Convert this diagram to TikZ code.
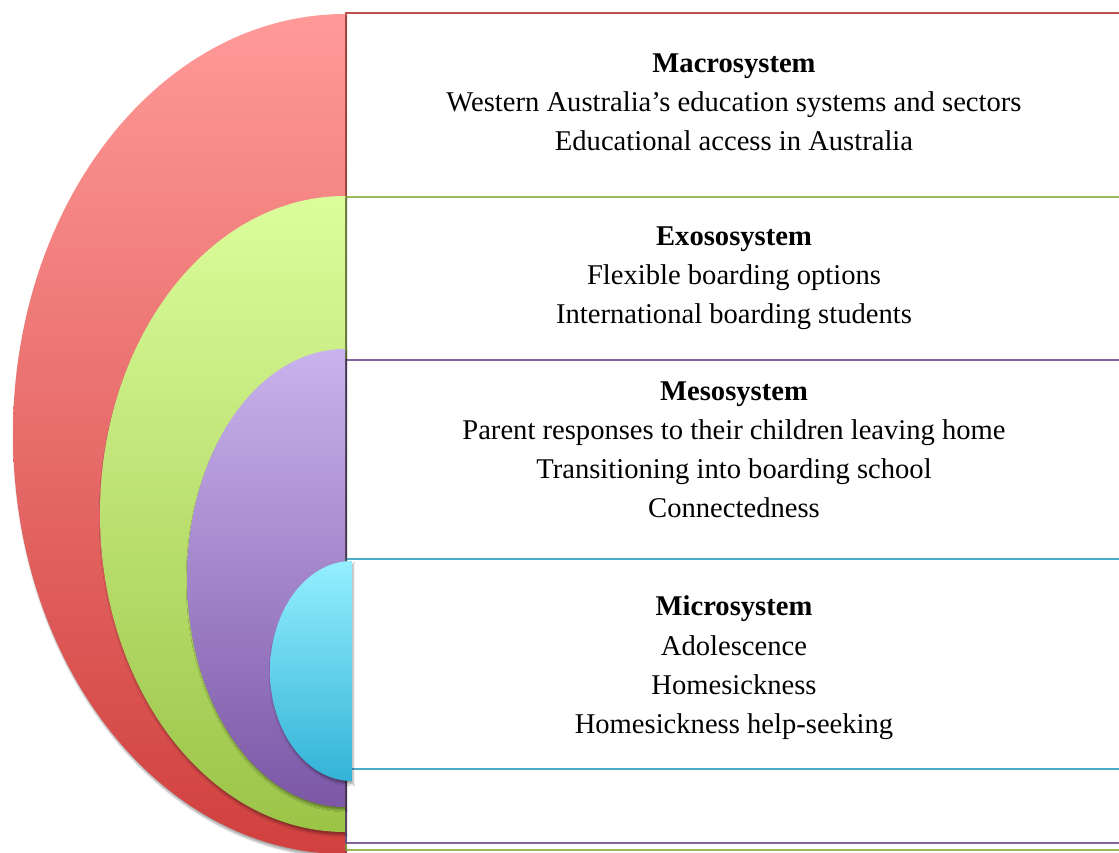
\documentclass[tikz,border=0pt]{standalone}
\usepackage{fontspec}
\setmainfont{Liberation Serif}
\usetikzlibrary{shadows.blur}
\definecolor{redL}{HTML}{C0504D}
\definecolor{greenL}{HTML}{9BBB59}
\definecolor{purpleL}{HTML}{8064A2}
\definecolor{cyanL}{HTML}{4BACC6}
\definecolor{redT}{HTML}{FF9A98}
\definecolor{redB}{HTML}{D0403E}
\definecolor{greenT}{HTML}{DCFD9C}
\definecolor{greenB}{HTML}{9BC447}
\definecolor{purpleT}{HTML}{C9B3ED}
\definecolor{purpleB}{HTML}{7B57A6}
\definecolor{cyanT}{HTML}{94EFFF}
\definecolor{cyanB}{HTML}{33B3D6}
\begin{document}
\begin{tikzpicture}[x=1pt,y=-1pt,
  lbl/.style={anchor=base, inner sep=0pt, font=\fontsize{28.6}{34}\selectfont},
  ttl/.style={anchor=base, inner sep=0pt, font=\fontsize{28.6}{34}\selectfont\bfseries},
  sysbox/.style={line width=1.5pt, fill=white},
  half/.style={blur shadow={shadow xshift=1pt, shadow yshift=-3pt, shadow blur steps=6, shadow opacity=35}}]
\useasboundingbox (0,0) rectangle (1119,853);
% boxes
\draw[sysbox, draw=redL] (346,13) rectangle (1130,870);
\draw[sysbox, draw=greenL] (346,197) rectangle (1130,850);
\draw[sysbox, draw=purpleL] (346,360) rectangle (1130,843);
\draw[sysbox, draw=cyanL] (346,559) rectangle (1130,769);
% half ellipses
\path[half, top color=redT, bottom color=redB] (345,14) arc[start angle=270, end angle=90, x radius=332, y radius=420] -- cycle;
\path[half, top color=greenT, bottom color=greenB] (345,196) arc[start angle=270, end angle=90, x radius=245, y radius=318] -- cycle;
\path[half, top color=purpleT, bottom color=purpleB] (345,349) arc[start angle=270, end angle=90, x radius=158, y radius=229] -- cycle;
\path[half, top color=cyanT, bottom color=cyanB] (352,561) arc[start angle=270, end angle=90, x radius=82, y radius=110] -- cycle;
% texts
\node[ttl] (mac0) at (734,73) {Macrosystem};
\node[lbl] (mac1) at (734,112) {Western Australia’s education systems and sectors};
\node[lbl] (mac2) at (734,151) {Educational access in Australia};
\node[ttl] (exo0) at (734,246) {Exososystem};
\node[lbl] (exo1) at (734,284) {Flexible boarding options};
\node[lbl] (exo2) at (734,323) {International boarding students};
\node[ttl] (mes0) at (734,400) {Mesosystem};
\node[lbl] (mes1) at (734,439) {Parent responses to their children leaving home};
\node[lbl] (mes2) at (734,478) {Transitioning into boarding school};
\node[lbl] (mes3) at (734,517) {Connectedness};
\node[ttl] (mic0) at (734,615) {Microsystem};
\node[lbl] (mic1) at (734,655) {Adolescence};
\node[lbl] (mic2) at (734,694) {Homesickness};
\node[lbl] (mic3) at (734,733) {Homesickness help-seeking};
\end{tikzpicture}
\end{document}
